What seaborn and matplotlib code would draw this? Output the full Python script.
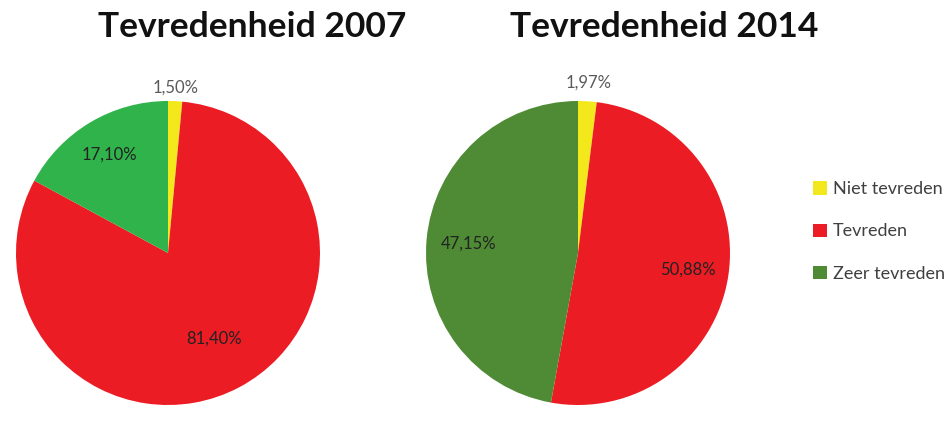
import matplotlib
matplotlib.use('Agg')
import matplotlib.pyplot as plt
import seaborn as sns
import numpy as np

# data
categories = ['Niet tevreden', 'Tevreden', 'Zeer tevreden']
values_2007 = [1.50, 81.40, 17.10]
values_2014 = [1.97, 50.88, 47.15]
labels_2007 = ['1,50%', '81,40%', '17,10%']
labels_2014 = ['1,97%', '50,88%', '47,15%']

colors_2007 = ['#f2e81c', '#ec1c24', '#2fb34a']
colors_2014 = ['#f2e81c', '#ec1c24', '#4f8a35']

sns.set_theme(style='white')
plt.rcParams['font.family'] = ['Lato', 'DejaVu Sans']

fig = plt.figure(figsize=(9.51, 4.22), dpi=100)
W, H = 951, 422


def draw_pie(cx, cy, r, values, labels, colors, dists, label_colors, title, tx):
    ax = fig.add_axes([(cx - r) / W, 1 - (cy + r) / H, 2 * r / W, 2 * r / H])
    wedges, _ = ax.pie(values, colors=colors, startangle=90, counterclock=False,
                       radius=1, wedgeprops=dict(linewidth=0))
    ax.set_xlim(-1, 1)
    ax.set_ylim(-1, 1)
    ax.set_aspect('equal')
    ax.axis('off')
    # percentage labels
    for w, lab, d, c in zip(wedges, labels, dists, label_colors):
        ang = np.deg2rad((w.theta1 + w.theta2) / 2)
        ax.text(d * np.cos(ang), d * np.sin(ang), lab, ha='center', va='center',
                fontsize=12, color=c, clip_on=False)
    fig.text(tx / W, 1 - 27 / H, title, ha='center', va='center',
             fontsize=25.5, fontweight='bold', color='#111111')
    return wedges


draw_pie(168, 253, 152, values_2007, labels_2007, colors_2007,
         [1.09, 0.64, 0.75], ['#595959', '#222222', '#222222'],
         'Tevredenheid 2007', 252)
wedges = draw_pie(578, 253, 152, values_2014, labels_2014, colors_2014,
                  [1.12, 0.73, 0.72], ['#595959', '#222222', '#222222'],
                  'Tevredenheid 2014', 664)

leg = fig.legend(wedges, categories, loc='upper left',
                 bbox_to_anchor=(797 / W, 1 - 165 / H), frameon=False,
                 handlelength=0.75, handleheight=0.75, handletextpad=0.35,
                 labelspacing=1.45, fontsize=13)
for t in leg.get_texts():
    t.set_color('#404040')

fig.savefig('out.png', dpi=100, facecolor='white')
